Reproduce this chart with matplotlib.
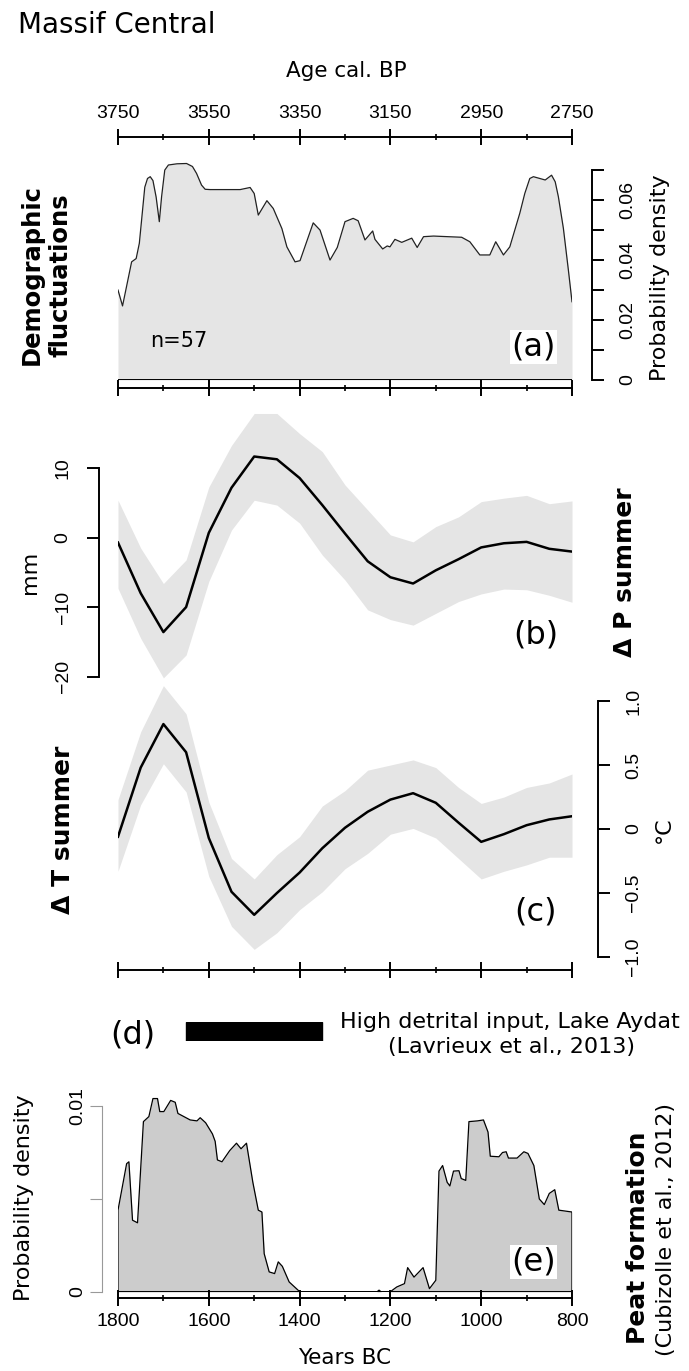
import matplotlib
matplotlib.use('Agg')
import matplotlib.pyplot as plt

plt.rcParams['font.family'] = 'DejaVu Sans'

W, H = 689, 1371
PX = 72 / 100  # points per pixel

# (a) demographic fluctuations, summed probability (years BC)
demo_years = [1800, 1790, 1770, 1760, 1753, 1741, 1735, 1729, 1723, 1716, 1709, 1704, 1697, 1689,
              1670, 1649, 1636, 1627, 1616, 1608, 1597, 1531, 1509, 1500, 1491, 1472, 1458, 1439,
              1428, 1410, 1399, 1370, 1355, 1333, 1317, 1300, 1282, 1271, 1256, 1239, 1234, 1217,
              1207, 1201, 1190, 1175, 1153, 1141, 1127, 1105, 1043, 1025, 1003, 981, 968, 951, 937,
              915, 904, 893, 885, 859, 845, 837, 830, 819, 808, 800]
demo_density = [0.0300, 0.0247, 0.0394, 0.0405, 0.0456, 0.0643, 0.0672, 0.0678, 0.0665, 0.0610,
                0.0528, 0.0611, 0.0700, 0.0717, 0.0721, 0.0722, 0.0712, 0.0689, 0.0650, 0.0636,
                0.0635, 0.0635, 0.0642, 0.0622, 0.0550, 0.0598, 0.0572, 0.0505, 0.0444, 0.0394,
                0.0398, 0.0524, 0.0500, 0.0400, 0.0442, 0.0528, 0.0539, 0.0531, 0.0467, 0.0497,
                0.0469, 0.0437, 0.0447, 0.0444, 0.0469, 0.0459, 0.0473, 0.0442, 0.0478, 0.0480,
                0.0476, 0.0461, 0.0417, 0.0417, 0.0461, 0.0417, 0.0444, 0.0556, 0.0622, 0.0672,
                0.0678, 0.0667, 0.0683, 0.0661, 0.0611, 0.0506, 0.0367, 0.0261]

# (b), (c) climate reconstructions
clim_years = [1800, 1750, 1700, 1650, 1600, 1550, 1500, 1450, 1400, 1350, 1300,
              1250, 1200, 1150, 1100, 1050, 1000, 950, 900, 850, 800]
precip_mean = [-0.7, -8.0, -13.6, -10.0, 0.7, 7.2, 11.7, 11.3, 8.6, 4.7, 0.6,
               -3.4, -5.7, -6.6, -4.7, -3.1, -1.4, -0.8, -0.6, -1.6, -2.0]
precip_hi = [5.4, -1.5, -6.6, -3.2, 7.3, 13.3, 17.9, 17.9, 15.0, 12.4, 7.6,
             4.0, 0.4, -0.6, 1.6, 3.0, 5.2, 5.7, 6.1, 4.9, 5.3]
precip_lo = [-7.3, -14.5, -20.2, -16.9, -6.3, 1.1, 5.4, 4.7, 2.1, -2.5, -6.1,
             -10.4, -11.8, -12.6, -10.9, -9.2, -8.1, -7.4, -7.5, -8.3, -9.3]
temp_mean = [-0.06, 0.48, 0.82, 0.60, -0.07, -0.49, -0.67, -0.50, -0.34, -0.15, 0.01,
             0.135, 0.23, 0.28, 0.205, 0.05, -0.10, -0.04, 0.03, 0.075, 0.10]
temp_hi = [0.23, 0.76, 1.12, 0.90, 0.21, -0.23, -0.39, -0.20, -0.06, 0.18, 0.30,
           0.46, 0.50, 0.54, 0.48, 0.325, 0.20, 0.25, 0.325, 0.36, 0.43]
temp_lo = [-0.33, 0.19, 0.51, 0.29, -0.37, -0.76, -0.94, -0.81, -0.63, -0.49, -0.31,
           -0.19, -0.04, 0.005, -0.07, -0.23, -0.39, -0.33, -0.28, -0.22, -0.22]

# (d) high detrital input period
detrital_start, detrital_end = 1650, 1350

# (e) peat formation
peat_years = [1800, 1800, 1781, 1776, 1768, 1757, 1744, 1732, 1723, 1713, 1708, 1699, 1684, 1674,
              1668, 1641, 1626, 1619, 1607, 1592, 1586, 1581, 1571, 1554, 1539, 1529, 1517, 1503,
              1491, 1483, 1478, 1467, 1455, 1447, 1438, 1423, 1411, 1399, 1230, 1225, 1220, 1201,
              1186, 1169, 1162, 1148, 1128, 1114, 1100, 1093, 1085, 1075, 1069, 1061, 1049, 1044,
              1034, 1027, 1008, 995, 985, 980, 961, 953, 945, 940, 921, 906, 897, 884, 872, 861,
              850, 838, 829, 800, 800]
peat_density = [0, 0.0044, 0.0069, 0.0070, 0.00386, 0.00372, 0.00916, 0.00943, 0.0104, 0.0104,
                0.0097, 0.0097, 0.0103, 0.0102, 0.0096, 0.00925, 0.0092, 0.00937, 0.0091, 0.0085,
                0.0081, 0.0071, 0.0070, 0.0076, 0.0080, 0.0077, 0.0080, 0.0059, 0.0044, 0.0043,
                0.00206, 0.00108, 0.00099, 0.00162, 0.00138, 0.00054, 0.00027, 0, 0, 0.0001,
                0, 0, 0.00027, 0.00045, 0.00131, 0.0008, 0.00131, 0.00018, 0.00063, 0.0065,
                0.0068, 0.0059, 0.0057, 0.0065, 0.00652, 0.0061, 0.0060, 0.00916, 0.0092, 0.00925,
                0.0086, 0.0073, 0.00727, 0.0075, 0.00754, 0.0072, 0.0072, 0.00754, 0.00745, 0.0068,
                0.0050, 0.0047, 0.0053, 0.0055, 0.0044, 0.0043, 0]

major_x = [1800, 1600, 1400, 1200, 1000, 800]
minor_x = [1700, 1500, 1300, 1100, 900]

fig = plt.figure(figsize=(W / 100, H / 100), dpi=100)


def add_ax(top, bottom):
    ax = fig.add_axes([118 / W, 1 - bottom / H, 454 / W, (bottom - top) / H])
    ax.set_facecolor('none')
    ax.set_xlim(1800, 800)
    for s in ax.spines.values():
        s.set_visible(False)
        s.set_linewidth(1.4)
    ax.set_xticks([])
    ax.set_yticks([])
    return ax


def time_axis(ax, where, offset_px, labels=False):
    sp = ax.spines[where]
    sp.set_visible(True)
    sp.set_position(('outward', offset_px * PX))
    ax.set_xticks(major_x)
    ax.set_xticks(minor_x, minor=True)
    ax.tick_params(axis='x', which='major', direction='inout', length=16 * PX, width=1.4,
                   top=(where == 'top'), bottom=(where == 'bottom'),
                   labeltop=labels and where == 'top', labelbottom=labels and where == 'bottom',
                   labelsize=14, labelfontfamily='Liberation Sans', pad=5)
    ax.tick_params(axis='x', which='minor', direction='inout', length=6 * PX, width=1.2,
                   top=(where == 'top'), bottom=(where == 'bottom'))


# ---- (a)
ax_a = add_ax(162, 380)
ax_a.set_ylim(0, 0.0727)
ax_a.fill_between(demo_years, demo_density, color='#e5e5e5', lw=0)
ax_a.plot(demo_years, demo_density, color='#222222', lw=0.9)
ax_a.axhline(0, color='black', lw=1.4)
time_axis(ax_a, 'top', 25, labels=True)
ax_a.xaxis.set_major_formatter(plt.FuncFormatter(lambda v, p: f'{int(v + 1950)}'))
ax_a.spines['bottom'].set_visible(True)
ax_a.spines['bottom'].set_position(('outward', 8 * PX))
ax_a.tick_params(axis='x', which='both', bottom=True)
ax_a.spines['right'].set_visible(True)
ax_a.spines['right'].set_position(('outward', 20 * PX))
ax_a.spines['right'].set_bounds(0, 0.07)
ax_a.yaxis.tick_right()
ax_a.set_yticks([0, 0.01, 0.02, 0.03, 0.04, 0.05, 0.06, 0.07],
                ['0', '', '0.02', '', '0.04', '', '0.06', ''])
ax_a.tick_params(axis='y', direction='out', length=12 * PX, width=1.4, labelsize=14,
                 labelrotation=90, labelfontfamily='Liberation Sans', pad=11)
for lbl in ax_a.get_yticklabels():
    lbl.set_va('center')
ax_a.text(1730, 0.013, 'n=57', fontsize=15, va='center', ha='left')
ax_a.text(885, 0.011, '(a)', fontsize=23, va='center', ha='center',
          bbox=dict(facecolor='white', edgecolor='none', pad=1))

# ---- (b)
ax_b = add_ax(408, 684)
ax_b.set_ylim(-21.08, 18.69)
ax_b.fill_between(clim_years, precip_lo, precip_hi, color='#e5e5e5', lw=0)
ax_b.plot(clim_years, precip_mean, color='black', lw=1.8)
ax_b.spines['left'].set_visible(True)
ax_b.spines['left'].set_position(('outward', 19 * PX))
ax_b.spines['left'].set_bounds(-20, 10)
ax_b.set_yticks([-20, -10, 0, 10])
ax_b.tick_params(axis='y', direction='out', length=12 * PX, width=1.4, labelsize=14,
                 labelrotation=90, labelfontfamily='Liberation Sans', pad=11)
for lbl in ax_b.get_yticklabels():
    lbl.set_va('center')
ax_b.text(880, -14, '(b)', fontsize=23, va='center', ha='center')

# ---- (c)
ax_c = add_ax(684, 960)
ax_c.set_ylim(-1.023, 1.133)
ax_c.fill_between(clim_years, temp_lo, temp_hi, color='#e5e5e5', lw=0)
ax_c.plot(clim_years, temp_mean, color='black', lw=1.8)
time_axis(ax_c, 'bottom', 10)
ax_c.spines['right'].set_visible(True)
ax_c.spines['right'].set_position(('outward', 26 * PX))
ax_c.spines['right'].set_bounds(-1, 1)
ax_c.yaxis.tick_right()
ax_c.set_yticks([-1, -0.5, 0, 0.5, 1], ['\u22121.0', '\u22120.5', '0', '0.5', '1.0'])
ax_c.tick_params(axis='y', direction='out', length=12 * PX, width=1.4, labelsize=14,
                 labelrotation=90, labelfontfamily='Liberation Sans', pad=11)
for lbl in ax_c.get_yticklabels():
    lbl.set_va('center')
ax_c.text(880, -0.65, '(c)', fontsize=23, va='center', ha='center')

# ---- (d)
ax_d = add_ax(1022, 1041)
ax_d.set_ylim(0, 1)
ax_d.axvspan(detrital_start, detrital_end, color='black')

# ---- (e)
ax_e = add_ax(1090, 1292)
ax_e.set_ylim(0, 0.01086)
ax_e.fill_between(peat_years, peat_density, color='#cccccc', lw=0)
ax_e.plot(peat_years, peat_density, color='black', lw=0.9)
ax_e.axhline(0, color='black', lw=1.4)
time_axis(ax_e, 'bottom', 6, labels=True)
ax_e.spines['left'].set_visible(True)
ax_e.spines['left'].set_color('#999999')
ax_e.spines['left'].set_linewidth(0.8)
ax_e.spines['left'].set_position(('outward', 16 * PX))
ax_e.spines['left'].set_bounds(0, 0.01)
ax_e.set_yticks([0, 0.005, 0.01], ['0', '', '0.01'])
ax_e.tick_params(axis='y', direction='out', length=12 * PX, width=0.8, color='#999999',
                 labelsize=14, labelrotation=90, labelfontfamily='Liberation Sans', pad=3)
for lbl in ax_e.get_yticklabels():
    lbl.set_va('center')
ax_e.text(885, 0.0016, '(e)', fontsize=23, va='center', ha='center',
          bbox=dict(facecolor='white', edgecolor='none', pad=1))


def ftext(x, y, s, **kw):
    fig.text(x / W, 1 - y / H, s, **kw)


ftext(18, 25, 'Massif Central', fontsize=20, va='center', ha='left')
ftext(346, 71, 'Age cal. BP', fontsize=15.5, va='center', ha='center')
ftext(46, 275, 'Demographic\nfluctuations', fontsize=17.5, fontweight='bold', rotation=90,
      va='center', ha='center', linespacing=1.25)
ftext(660, 278, 'Probability density', fontsize=16, rotation=90, va='center', ha='center')
ftext(30, 572, 'mm', fontsize=16, rotation=90, va='center', ha='center')
ftext(625, 572, '\u0394 P summer', fontsize=18, fontweight='bold', rotation=90,
      va='center', ha='center')
ftext(63, 830, '\u0394 T summer', fontsize=18, fontweight='bold', rotation=90,
      va='center', ha='center')
ftext(664, 830, '\u00b0C', fontsize=16, rotation=90, va='center', ha='center')
ftext(133, 1035, '(d)', fontsize=23, va='center', ha='center')
ftext(680, 1022, 'High detrital input, Lake Aydat', fontsize=16, va='center', ha='right')
ftext(512, 1047, '(Lavrieux et al., 2013)', fontsize=16, va='center', ha='center')
ftext(24, 1198, 'Probability density', fontsize=16, rotation=90, va='center', ha='center')
ftext(638, 1238, 'Peat formation', fontsize=18, fontweight='bold', rotation=90,
      va='center', ha='center')
ftext(666, 1230, '(Cubizolle et al., 2012)', fontsize=16, rotation=90, va='center', ha='center')
ftext(345, 1358, 'Years BC', fontsize=15.5, va='center', ha='center')

fig.savefig('out.png', dpi=100)
